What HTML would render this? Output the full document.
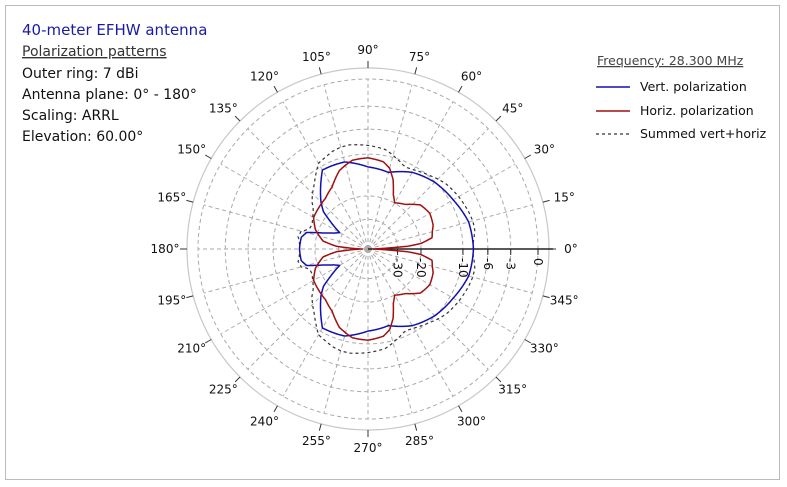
<!DOCTYPE html>
<html><head><meta charset="utf-8">
<style>
html,body{margin:0;padding:0;background:#fff;}
body{width:787px;height:487px;overflow:hidden;font-family:"DejaVu Sans","Liberation Sans",sans-serif;}
#frame{position:absolute;left:5px;top:5px;width:775px;height:475px;border:1px solid #bbb;box-sizing:border-box;}
svg{position:absolute;left:0;top:0;}
</style></head>
<body>
<div id="frame"></div>
<svg id="chart" width="787" height="487">
  <g font-size="14" fill="#111">
    <text x="22" y="35" fill="#1a1aa6" font-size="15">40-meter EFHW antenna</text>
    <text x="22" y="56" text-decoration="underline" fill="#333">Polarization patterns</text>
    <text x="22" y="78">Outer ring: 7 dBi</text>
    <text x="22" y="99">Antenna plane: 0° - 180°</text>
    <text x="22" y="120">Scaling: ARRL</text>
    <text x="22" y="141">Elevation: 60.00°</text>
  </g>
  <g font-size="12.5" fill="#111">
    <text x="597" y="65" fill="#444" text-decoration="underline">Frequency: 28.300 MHz</text>
    <line x1="596" y1="87" x2="630" y2="87" stroke="#1010b0" stroke-width="1.5"/>
    <text x="640" y="91">Vert. polarization</text>
    <line x1="596" y1="111" x2="630" y2="111" stroke="#a01010" stroke-width="1.5"/>
    <text x="640" y="115">Horiz. polarization</text>
    <line x1="596" y1="134" x2="630" y2="134" stroke="#333" stroke-width="1.2" stroke-dasharray="3,3"/>
    <text x="640" y="138">Summed vert+horiz</text>
  </g>
  <g id="grid"></g>
  <g id="series"></g>
</svg>
<script>
const vertAngles = [0,15,30,45,60,75,90,105,120,135,140,150,155,160,165,170,180];
const vertDb =     [-8.2,-8.4,-9.4,-10.1,-11.2,-13.1,-12.5,-10.9,-10.7,-16.1,-18.4,-28.3,-25.9,-22.2,-16.9,-15.8,-15.6];
const horizAngles = [0,2,4,6,10,15,20,30,40,50,60,65,70,75,80,90,100,110,120,130,140,150,160,170,175,178,180];
const horizDb =     [-60,-43.7,-24.8,-19.9,-16.5,-16.1,-15.4,-14.9,-15.6,-18.4,-19.9,-17.9,-14.4,-12.2,-11.2,-10.7,-10.9,-12.2,-14.8,-16.2,-16.7,-17.1,-19.1,-22.6,-28.8,-43.7,-60];
const ringDb = [0,-3,-6,-10,-20,-30];
const ringLabels = ["0","-3","-6","-10","-20","-30"];
const angleTicks = [0,15,30,45,60,75,90,105,120,135,150,165,180,195,210,225,240,255,270,285,300,315,330,345];

const CX=368, CY=249, R0=170, ROUT=181;
const NS='http://www.w3.org/2000/svg';
function rScale(db){ return R0*Math.pow(0.89,-db/2); }
function pt(deg,db){ const a=deg*Math.PI/180, r=rScale(db); return [CX+r*Math.cos(a), CY-r*Math.sin(a)]; }
function mk(tag,attrs,parent){ const e=document.createElementNS(NS,tag); for(const k in attrs) e.setAttribute(k,attrs[k]); parent.appendChild(e); return e; }
const grid=document.getElementById('grid'), series=document.getElementById('series');

// outer ring
let oc=mk('circle',{cx:CX,cy:CY,r:ROUT,fill:'none',stroke:'#c8c8c8','stroke-width':1.2},grid);


// dashed rings
ringDb.forEach(d=>{
  const c=mk('circle',{cx:CX,cy:CY,r:rScale(d),fill:'none',stroke:'#aaa','stroke-width':1,'stroke-dasharray':'4,3'},grid);
  
  
});
// spokes, ticks, labels
angleTicks.forEach(a=>{
  const rad=a*Math.PI/180, co=Math.cos(rad), si=Math.sin(rad);
  if(a!==0){
    const s=mk('line',{x1:CX,y1:CY,x2:CX+R0*co,y2:CY-R0*si,stroke:'#aaa','stroke-width':1,'stroke-dasharray':'4,3'},grid);
    
    
  }
  const t=mk('line',{x1:CX+ROUT*co,y1:CY-ROUT*si,x2:CX+(ROUT+7)*co,y2:CY-(ROUT+7)*si,stroke:'#333','stroke-width':1},grid);
  
  
  const lr=ROUT+18;
  const tx=mk('text',{x:CX+lr*co+ (co>0.3?4:co<-0.3?-4:0),y:CY-lr*si+4,'font-size':12,fill:'#111','text-anchor':'middle'},grid);
  tx.textContent=a+'°';
  
  
});
// radial axis
let ax=mk('line',{x1:CX,y1:CY,x2:CX+ROUT+4,y2:CY,stroke:'#222','stroke-width':1.4},grid);


ringDb.forEach((d,i)=>{
  const x=CX+rScale(d);
  const tk=mk('line',{x1:x,y1:CY,x2:x,y2:CY+6,stroke:'#222','stroke-width':1},grid);
  
  
  const tl=mk('text',{x:0,y:0,'font-size':12,fill:'#111',transform:`translate(${x-4},${CY+9}) rotate(90)`},grid);
  tl.textContent=ringLabels[i];
  
  
});

function interp(angs,vals,a){
  for(let i=0;i<angs.length-1;i++){
    if(a>=angs[i]&&a<=angs[i+1]){ const t=(a-angs[i])/(angs[i+1]-angs[i]); return vals[i]+t*(vals[i+1]-vals[i]); }
  }
  return vals[vals.length-1];
}
function fullPath(fn){
  const pts=[];
  for(let a=0;a<=360;a+=0.5){ const m=a<=180?a:360-a; pts.push(pt(a,fn(m))); }
  return 'M'+pts.map(p=>p[0].toFixed(2)+','+p[1].toFixed(2)).join('L')+'Z';
}
const vFn=m=>interp(vertAngles,vertDb,m);
const hFn=m=>interp(horizAngles,horizDb,m);
const sFn=m=>10*Math.log10(Math.pow(10,vFn(m)/10)+Math.pow(10,hFn(m)/10));

let ps=mk('path',{d:fullPath(sFn),fill:'none',stroke:'#333','stroke-width':1.2,'stroke-dasharray':'3,3'},series);


let pv=mk('path',{d:fullPath(vFn),fill:'none',stroke:'#1010b0','stroke-width':1.5,'stroke-linejoin':'round'},series);


let ph=mk('path',{d:fullPath(hFn),fill:'none',stroke:'#a01010','stroke-width':1.5,'stroke-linejoin':'round'},series);


</script>
</body></html>
